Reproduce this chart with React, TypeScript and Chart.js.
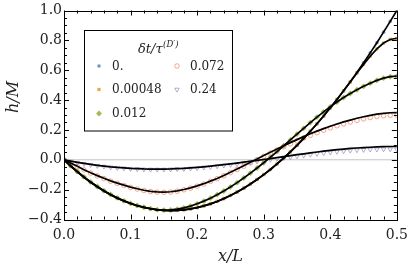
import React, { useEffect, useRef } from "react";
import { Chart, registerables } from "chart.js";
import { drawPoint } from "chart.js/helpers";

Chart.register(...registerables);

// ---------- data ----------
const xs = [
  0, 0.01, 0.02, 0.03, 0.04, 0.05, 0.06, 0.07, 0.08, 0.09,
  0.1, 0.11, 0.12, 0.13, 0.14, 0.15, 0.16, 0.17, 0.18, 0.19,
  0.2, 0.21, 0.22, 0.23, 0.24, 0.25, 0.26, 0.27, 0.28, 0.29,
  0.3, 0.31, 0.32, 0.33, 0.34, 0.35, 0.36, 0.37, 0.38, 0.39,
  0.4, 0.41, 0.42, 0.43, 0.44, 0.45, 0.46, 0.47, 0.48, 0.49, 0.5,
];

// δt = 0
const h0 = [
  0, -0.042, -0.081, -0.117, -0.151, -0.181, -0.209, -0.234, -0.257, -0.276,
  -0.293, -0.308, -0.319, -0.328, -0.335, -0.339, -0.340, -0.339, -0.335, -0.329,
  -0.320, -0.309, -0.295, -0.279, -0.260, -0.239, -0.216, -0.190, -0.162, -0.132,
  -0.099, -0.065, -0.028, 0.012, 0.053, 0.097, 0.143, 0.191, 0.241, 0.293,
  0.348, 0.404, 0.462, 0.523, 0.585, 0.650, 0.716, 0.784, 0.855, 0.927, 1.0,
];

// δt = 0.00048
const h1 = [
  0, -0.042, -0.081, -0.117, -0.151, -0.181, -0.209, -0.234, -0.257, -0.276,
  -0.293, -0.308, -0.319, -0.328, -0.335, -0.339, -0.340, -0.339, -0.335, -0.329,
  -0.320, -0.309, -0.295, -0.279, -0.260, -0.239, -0.216, -0.190, -0.162, -0.132,
  -0.099, -0.065, -0.028, 0.012, 0.053, 0.097, 0.143, 0.191, 0.241, 0.293,
  0.348, 0.404, 0.462, 0.521, 0.581, 0.639, 0.694, 0.743, 0.782, 0.806, 0.814,
];

// δt = 0.012
const h2 = [
  0, -0.040, -0.078, -0.114, -0.148, -0.179, -0.207, -0.232, -0.255, -0.275,
  -0.292, -0.306, -0.318, -0.327, -0.334, -0.337, -0.336, -0.331, -0.322, -0.310,
  -0.295, -0.277, -0.257, -0.234, -0.209, -0.182, -0.153, -0.122, -0.089, -0.055,
  -0.020, 0.017, 0.055, 0.094, 0.133, 0.172, 0.211, 0.249, 0.286, 0.321,
  0.355, 0.387, 0.417, 0.444, 0.469, 0.492, 0.513, 0.532, 0.547, 0.557, 0.561,
];

// δt = 0.072 (points)
const h3 = [
  0, -0.023, -0.046, -0.068, -0.089, -0.108, -0.126, -0.143, -0.158, -0.172,
  -0.185, -0.196, -0.206, -0.213, -0.217, -0.218, -0.216, -0.210, -0.201, -0.190,
  -0.177, -0.162, -0.145, -0.127, -0.107, -0.086, -0.065, -0.043, -0.021, 0.001,
  0.023, 0.045, 0.066, 0.087, 0.107, 0.127, 0.146, 0.164, 0.182, 0.198,
  0.214, 0.228, 0.241, 0.253, 0.264, 0.274, 0.283, 0.290, 0.295, 0.298, 0.299,
];

// δt = 0.072 (theory curve)
const h3Fit = [
  0, -0.021, -0.044, -0.066, -0.087, -0.106, -0.124, -0.141, -0.156, -0.170,
  -0.183, -0.194, -0.204, -0.211, -0.215, -0.216, -0.214, -0.208, -0.199, -0.188,
  -0.175, -0.160, -0.143, -0.125, -0.105, -0.084, -0.062, -0.040, -0.017, 0.005,
  0.028, 0.051, 0.073, 0.094, 0.115, 0.135, 0.155, 0.174, 0.192, 0.209,
  0.225, 0.240, 0.254, 0.266, 0.278, 0.288, 0.298, 0.306, 0.311, 0.315, 0.316,
];

// δt = 0.24 (points)
const h4 = [
  0, -0.011, -0.020, -0.027, -0.034, -0.040, -0.045, -0.050, -0.054, -0.057,
  -0.060, -0.062, -0.064, -0.065, -0.065, -0.065, -0.064, -0.062, -0.061, -0.058,
  -0.055, -0.051, -0.047, -0.043, -0.038, -0.033, -0.028, -0.022, -0.016, -0.011,
  -0.005, 0.001, 0.007, 0.012, 0.018, 0.024, 0.029, 0.035, 0.040, 0.045,
  0.050, 0.054, 0.058, 0.062, 0.065, 0.067, 0.069, 0.070, 0.071, 0.071, 0.071,
];

// δt = 0.24 (theory curve)
const h4Fit = [
  0, -0.009, -0.017, -0.024, -0.031, -0.037, -0.042, -0.047, -0.051, -0.054,
  -0.057, -0.059, -0.061, -0.062, -0.062, -0.062, -0.061, -0.059, -0.057, -0.054,
  -0.051, -0.047, -0.043, -0.038, -0.033, -0.028, -0.022, -0.016, -0.010, -0.004,
  0.002, 0.008, 0.015, 0.021, 0.028, 0.034, 0.040, 0.046, 0.052, 0.058,
  0.063, 0.068, 0.072, 0.076, 0.079, 0.082, 0.084, 0.086, 0.088, 0.089, 0.089,
];

const zeroLineX = [0, 0.5];
const zeroLineY = [0, 0];

const legendLabels = ["0.", "0.00048", "0.012", "0.072", "0.24"];
const xTicks = [0, 0.1, 0.2, 0.3, 0.4, 0.5];
const yTicks = [-0.4, -0.2, 0, 0.2, 0.4, 0.6, 0.8, 1.0];

const SERIF = '"DejaVu Serif", serif';

const markerStyles = [
  { pointStyle: "circle", radius: 1.8, fill: "rgba(94,129,181,0.85)", stroke: "rgba(94,129,181,0.85)", borderWidth: 0, rotation: 0 },
  { pointStyle: "rect", radius: 2.3, fill: "rgba(225,156,36,0.85)", stroke: "rgba(225,156,36,0.85)", borderWidth: 0, rotation: 0 },
  { pointStyle: "rectRot", radius: 2.9, fill: "rgba(143,176,50,0.85)", stroke: "rgba(143,176,50,0.85)", borderWidth: 0, rotation: 0 },
  { pointStyle: "circle", radius: 2.3, fill: "rgba(0,0,0,0)", stroke: "rgba(235,98,53,0.55)", borderWidth: 1, rotation: 0 },
  { pointStyle: "triangle", radius: 2.6, fill: "rgba(0,0,0,0)", stroke: "rgba(135,120,179,0.6)", borderWidth: 1, rotation: 180 },
];

const pts = (ys: number[]) => ys.map((y, i) => ({ x: xs[i], y }));

const fmt = (v: number) => {
  if (Math.abs(v) < 1e-9) return "0.0";
  const s = Math.abs(v).toFixed(1);
  return v < 0 ? "\u2212" + s : s;
};

const decorPlugin = {
  id: "decor",
  afterDraw(chart: any) {
    const ctx = chart.ctx as CanvasRenderingContext2D;
    const { left, right, top, bottom } = chart.chartArea;
    const xs_ = chart.scales.x;
    const ys_ = chart.scales.y;
    ctx.save();
    // frame
    ctx.strokeStyle = "#000";
    ctx.lineWidth = 1;
    ctx.strokeRect(Math.round(left) + 0.5, Math.round(top) + 0.5, Math.round(right) - Math.round(left), Math.round(bottom) - Math.round(top));
    // ticks (inward, all four sides)
    ctx.beginPath();
    for (let k = 0; k <= 25; k++) {
      const v = k * 0.02;
      const px = Math.round(xs_.getPixelForValue(v)) + 0.5;
      const len = k % 5 === 0 ? 5 : 3;
      ctx.moveTo(px, bottom);
      ctx.lineTo(px, bottom - len);
      ctx.moveTo(px, top);
      ctx.lineTo(px, top + len);
    }
    for (let k = 0; k <= 28; k++) {
      const v = -0.4 + k * 0.05;
      const py = Math.round(ys_.getPixelForValue(v)) + 0.5;
      const len = k % 4 === 0 ? 5 : 3;
      ctx.moveTo(left, py);
      ctx.lineTo(left + len, py);
      ctx.moveTo(right, py);
      ctx.lineTo(right - len, py);
    }
    ctx.stroke();

    // axis titles
    ctx.fillStyle = "#222";
    ctx.font = `italic 16px ${SERIF}`;
    ctx.textAlign = "center";
    ctx.textBaseline = "middle";
    ctx.fillText("x/L", (left + right) / 2, 257);
    ctx.save();
    ctx.translate(14, 97);
    ctx.rotate(-Math.PI / 2);
    ctx.fillText("h/M", 0, 0);
    ctx.restore();

    // legend box
    const bx = 84.5, by = 30.5, bw = 148, bh = 100.5;
    ctx.fillStyle = "#fff";
    ctx.fillRect(bx, by, bw, bh);
    ctx.strokeStyle = "#000";
    ctx.lineWidth = 1;
    ctx.strokeRect(bx, by, bw, bh);

    // legend title δt/τ^(D′)
    ctx.fillStyle = "#222";
    ctx.textAlign = "left";
    ctx.textBaseline = "alphabetic";
    ctx.font = `italic 13px ${SERIF}`;
    const t1 = "\u03B4t/\u03C4";
    ctx.fillText(t1, 138, 53);
    const w1 = ctx.measureText(t1).width;
    ctx.font = `italic 8.5px ${SERIF}`;
    ctx.fillText("(D\u2032)", 138 + w1 + 0.5, 47);

    // legend entries
    const entries = [
      { i: 0, mx: 99, my: 66 },
      { i: 1, mx: 99, my: 89.5 },
      { i: 2, mx: 99, my: 113.5 },
      { i: 3, mx: 177, my: 66 },
      { i: 4, mx: 177, my: 89.5 },
    ];
    ctx.font = `12px ${SERIF}`;
    ctx.textBaseline = "middle";
    for (const e of entries) {
      const st = markerStyles[e.i];
      ctx.fillStyle = st.fill;
      ctx.strokeStyle = st.stroke;
      ctx.lineWidth = st.borderWidth;
      drawPoint(ctx, { pointStyle: st.pointStyle as any, radius: st.radius, rotation: st.rotation, borderWidth: st.borderWidth }, e.mx, e.my);
      ctx.fillStyle = "#222";
      ctx.fillText(legendLabels[e.i], e.mx + 13, e.my + 0.5);
    }
    ctx.restore();
  },
};

export default function App() {
  const ref = useRef<HTMLCanvasElement | null>(null);
  useEffect(() => {
    if (!ref.current) return;
    const series = [h0, h1, h2, h3, h4];
    const markerSets = series.map((ys, i) => {
      const st = markerStyles[i];
      return {
        label: legendLabels[i],
        data: pts(ys),
        showLine: false,
        pointStyle: st.pointStyle,
        pointRadius: st.radius,
        pointRotation: st.rotation,
        pointBackgroundColor: st.fill,
        pointBorderColor: st.stroke,
        pointBorderWidth: st.borderWidth,
        order: 5 - i,
      };
    });
    const curves = [h0, h1, h2, h3Fit, h4Fit].map((ys) => ({
      data: pts(ys),
      showLine: true,
      borderColor: "#000",
      borderWidth: 1.7,
      pointRadius: 0,
      tension: 0,
      order: 0,
    }));
    const zero = {
      data: zeroLineX.map((x, i) => ({ x, y: zeroLineY[i] })),
      showLine: true,
      borderColor: "#c4c4c4",
      borderWidth: 1,
      pointRadius: 0,
      order: 20,
    };
    const chart = new Chart(ref.current, {
      type: "scatter",
      data: { datasets: [...curves, ...markerSets, zero] as any },
      options: {
        animation: false,
        responsive: false,
        devicePixelRatio: 1,
        events: [],
        layout: { padding: { left: 0, top: 10.5, right: 13, bottom: 0 } },
        plugins: { legend: { display: false }, tooltip: { enabled: false } },
        scales: {
          x: {
            type: "linear",
            min: 0,
            max: 0.5,
            afterBuildTicks: (s: any) => { s.ticks = xTicks.map((v) => ({ value: v })); },
            afterFit: (s: any) => { s.height = 52.5; },
            grid: { display: false, drawTicks: false },
            border: { display: false },
            ticks: { color: "#222", font: { family: SERIF, size: 14 }, padding: 7, maxRotation: 0, autoSkip: false, callback: (v: any) => fmt(Number(v)) },
          },
          y: {
            type: "linear",
            min: -0.4,
            max: 1.0,
            afterBuildTicks: (s: any) => { s.ticks = yTicks.map((v) => ({ value: v })); },
            afterFit: (s: any) => { s.width = 64; },
            grid: { display: false, drawTicks: false },
            border: { display: false },
            ticks: { color: "#222", font: { family: SERIF, size: 14 }, padding: 2, autoSkip: false, callback: (v: any) => fmt(Number(v)) },
          },
        },
      },
      plugins: [decorPlugin],
    });
    return () => chart.destroy();
  }, []);
  return (
    <div style={{ position: "fixed", left: 0, top: 0, width: 415, height: 272, background: "#fff" }}>
      <canvas ref={ref} width={415} height={272} style={{ display: "block", width: 415, height: 272 }} />
    </div>
  );
}
